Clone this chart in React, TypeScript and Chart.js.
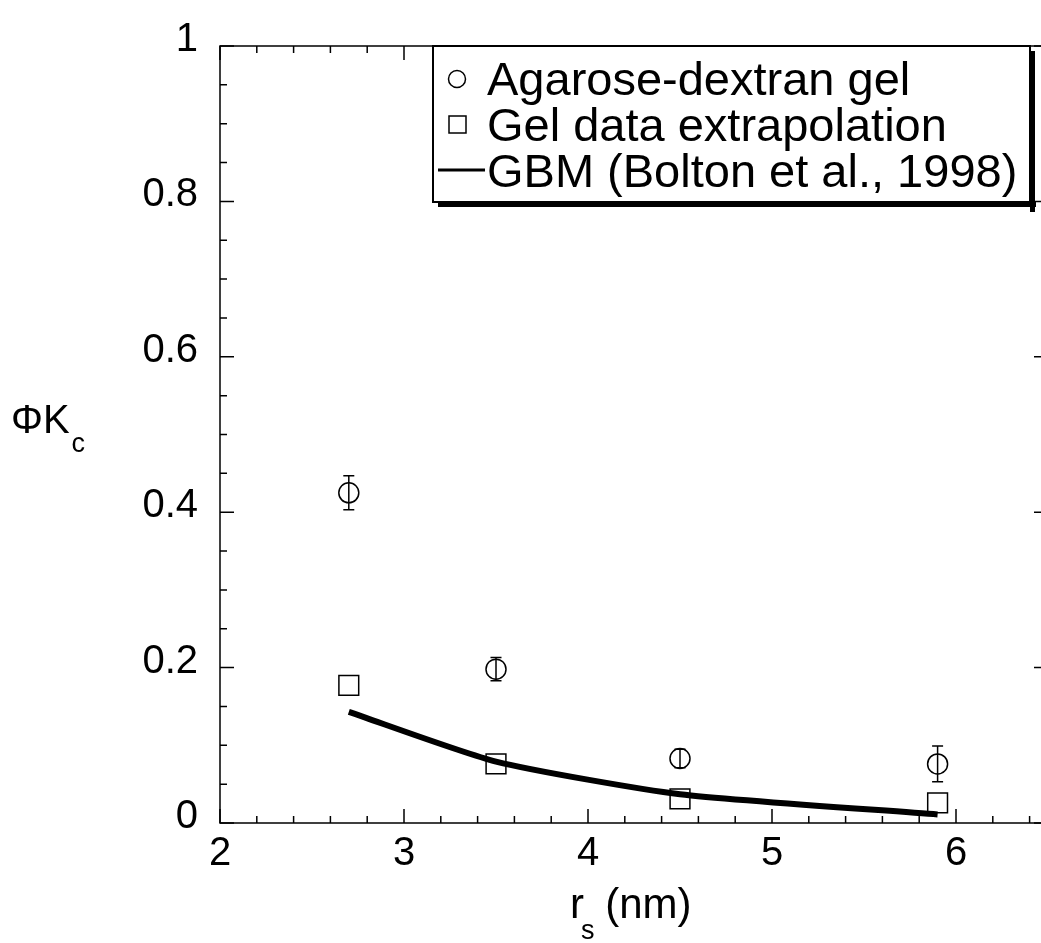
import React, { useEffect, useRef } from 'react';
import { Chart, registerables } from 'chart.js';

Chart.register(...registerables);

// ---- data ----
const rsValues = [2.7, 3.5, 4.5, 5.9];
const gelValues = [0.425, 0.198, 0.083, 0.076];
const gelErrors = [0.022, 0.015, 0.012, 0.023];
const extrapValues = [0.177, 0.076, 0.031, 0.026];
const gbmX = [2.7, 3.5, 4.5, 5.9];
const gbmValues = [0.143, 0.079, 0.037, 0.011];
const xTicks = [2, 3, 4, 5, 6];
const xTickLabels = ['2', '3', '4', '5', '6'];
const yTicks = [0, 0.2, 0.4, 0.6, 0.8, 1];
const yTickLabels = ['0', '0.2', '0.4', '0.6', '0.8', '1'];
const legendLabels = ['Agarose-dextran gel', 'Gel data extrapolation', 'GBM (Bolton et al., 1998)'];
const xRange = [2, 6.5];
const yRange = [0, 1];
const xMinorStep = 0.2;
const yMinorStep = 0.05;

const FONT = '"Liberation Sans", Arial, Helvetica, sans-serif';

const framePlugin = {
  id: 'frame',
  afterDraw(chart: any) {
    const { ctx, chartArea: a, scales } = chart;
    const xs = scales.x;
    const ys = scales.y;
    ctx.save();
    ctx.strokeStyle = '#000';
    ctx.lineWidth = 1.5;
    ctx.beginPath();
    ctx.moveTo(a.left, a.top);
    ctx.lineTo(a.left, a.bottom);
    ctx.lineTo(a.right, a.bottom);
    ctx.lineTo(a.right, a.top);
    ctx.closePath();
    ctx.stroke();
    const major = 14;
    const minor = 7;
    ctx.beginPath();
    const nx = Math.round((xRange[1] - xRange[0]) / xMinorStep);
    for (let i = 0; i <= nx; i++) {
      const v = xRange[0] + i * xMinorStep;
      const isMajor = Math.abs(v - Math.round(v)) < 1e-6;
      const px = xs.getPixelForValue(v);
      const len = isMajor ? major : minor;
      ctx.moveTo(px, a.bottom);
      ctx.lineTo(px, a.bottom - len);
      ctx.moveTo(px, a.top);
      ctx.lineTo(px, a.top + len);
    }
    const ny = Math.round((yRange[1] - yRange[0]) / yMinorStep);
    for (let i = 0; i <= ny; i++) {
      const v = yRange[0] + i * yMinorStep;
      const isMajor = i % 4 === 0;
      const py = ys.getPixelForValue(v);
      const len = isMajor ? major : minor;
      ctx.moveTo(a.left, py);
      ctx.lineTo(a.left + len, py);
      ctx.moveTo(a.right, py);
      ctx.lineTo(a.right - len, py);
    }
    ctx.stroke();
    ctx.restore();
  },
};

const errorBarPlugin = {
  id: 'errorBars',
  afterDatasetsDraw(chart: any) {
    const { ctx, scales } = chart;
    ctx.save();
    ctx.strokeStyle = '#000';
    ctx.lineWidth = 1.5;
    ctx.beginPath();
    rsValues.forEach((x, i) => {
      const px = scales.x.getPixelForValue(x);
      const top = scales.y.getPixelForValue(gelValues[i] + gelErrors[i]);
      const bot = scales.y.getPixelForValue(gelValues[i] - gelErrors[i]);
      ctx.moveTo(px, top);
      ctx.lineTo(px, bot);
      ctx.moveTo(px - 5.5, top);
      ctx.lineTo(px + 5.5, top);
      ctx.moveTo(px - 5.5, bot);
      ctx.lineTo(px + 5.5, bot);
    });
    ctx.stroke();
    ctx.restore();
  },
};

const legendPlugin = {
  id: 'customLegend',
  afterDraw(chart: any) {
    const { ctx } = chart;
    const L = 433, T = 46, R = 1030, B = 202;
    ctx.save();
    ctx.fillStyle = '#000';
    ctx.fillRect(L + 5, B, R - L + 1, 5);
    ctx.fillRect(R, T + 5, 5, B - T + 5);
    ctx.fillStyle = '#fff';
    ctx.fillRect(L, T, R - L, B - T);
    ctx.strokeStyle = '#000';
    ctx.lineWidth = 2;
    ctx.strokeRect(L, T, R - L, B - T);
    ctx.font = `47px ${FONT}`;
    ctx.fillStyle = '#000';
    ctx.textBaseline = 'alphabetic';
    const baselines = [95, 141, 187];
    const tx = 487;
    legendLabels.forEach((t, i) => ctx.fillText(t, tx, baselines[i]));
    ctx.lineWidth = 1.5;
    ctx.beginPath();
    ctx.arc(457, baselines[0] - 16, 8.5, 0, Math.PI * 2);
    ctx.stroke();
    ctx.strokeRect(449, baselines[1] - 25, 17, 17);
    ctx.lineWidth = 3;
    ctx.beginPath();
    ctx.moveTo(438, baselines[2] - 17);
    ctx.lineTo(485, baselines[2] - 17);
    ctx.stroke();
    ctx.restore();
  },
};

const titlePlugin = {
  id: 'axisTitles',
  afterDraw(chart: any) {
    const { ctx } = chart;
    ctx.save();
    ctx.fillStyle = '#000';
    ctx.textBaseline = 'alphabetic';
    ctx.font = `40px ${FONT}`;
    ctx.fillText('ΦK', 11, 433);
    const w = ctx.measureText('ΦK').width;
    ctx.font = `27px ${FONT}`;
    ctx.fillText('c', 11 + w + 2, 452);
    ctx.font = `42px ${FONT}`;
    const x0 = 570;
    ctx.fillText('r', x0, 918);
    const rw = ctx.measureText('r').width;
    ctx.font = `27px ${FONT}`;
    ctx.fillText('s', x0 + rw - 3, 939);
    const sw = ctx.measureText('s').width;
    ctx.font = `42px ${FONT}`;
    ctx.fillText(' (nm)', x0 + rw + sw - 4, 918);
    ctx.restore();
  },
};

export default function App() {
  const ref = useRef<HTMLCanvasElement | null>(null);
  useEffect(() => {
    if (!ref.current) return;
    const chart = new Chart(ref.current, {
      type: 'scatter',
      data: {
        datasets: [
          {
            label: legendLabels[0],
            data: rsValues.map((x, i) => ({ x, y: gelValues[i] })),
            pointStyle: 'circle',
            pointRadius: 10,
            borderColor: '#000',
            backgroundColor: 'rgba(0,0,0,0)',
            borderWidth: 1.5,
          },
          {
            label: legendLabels[1],
            data: rsValues.map((x, i) => ({ x, y: extrapValues[i] })),
            pointStyle: 'rect',
            pointRadius: 14,
            borderColor: '#000',
            backgroundColor: 'rgba(0,0,0,0)',
            borderWidth: 1.5,
          },
          {
            label: legendLabels[2],
            data: gbmX.map((x, i) => ({ x, y: gbmValues[i] })),
            showLine: true,
            borderColor: '#000',
            borderWidth: 6,
            pointRadius: 0,
            tension: 0.2,
          } as any,
        ],
      },
      options: {
        animation: false,
        responsive: false,
        maintainAspectRatio: false,
        layout: { padding: { left: 0, top: 33, right: 12, bottom: 0 }, autoPadding: false } as any,
        plugins: { legend: { display: false }, tooltip: { enabled: false } },
        scales: {
          x: {
            type: 'linear',
            min: xRange[0],
            max: xRange[1],
            grid: { display: false, drawTicks: false },
            border: { display: false },
            afterBuildTicks: (s: any) => {
              s.ticks = xTicks.map((v) => ({ value: v }));
            },
            afterFit: (s: any) => {
              s.height = 120;
            },
            ticks: {
              font: { family: FONT, size: 40 },
              color: '#000',
              padding: 7,
              maxRotation: 0,
              autoSkip: false,
              callback: (v: any) => xTickLabels[xTicks.indexOf(Number(v))] ?? '',
            },
          },
          y: {
            type: 'linear',
            min: yRange[0],
            max: yRange[1],
            grid: { display: false, drawTicks: false },
            border: { display: false },
            afterBuildTicks: (s: any) => {
              s.ticks = yTicks.map((v) => ({ value: v }));
            },
            afterFit: (s: any) => {
              s.width = 220;
            },
            ticks: {
              font: { family: FONT, size: 40 },
              color: '#000',
              padding: 22,
              labelOffset: -6,
              autoSkip: false,
              callback: (v: any) => yTickLabels[yTicks.findIndex((t) => Math.abs(t - Number(v)) < 1e-9)] ?? '',
            },
          },
        },
      } as any,
      plugins: [framePlugin, errorBarPlugin, legendPlugin, titlePlugin],
    });
    return () => chart.destroy();
  }, []);
  return (
    <div
      style={{
        position: 'fixed',
        left: 0,
        top: 0,
        width: 1041,
        height: 943,
        overflow: 'hidden',
        background: '#fff',
      }}
    >
      <canvas ref={ref} width={1060} height={943} style={{ width: 1060, height: 943, display: 'block' }} />
    </div>
  );
}
